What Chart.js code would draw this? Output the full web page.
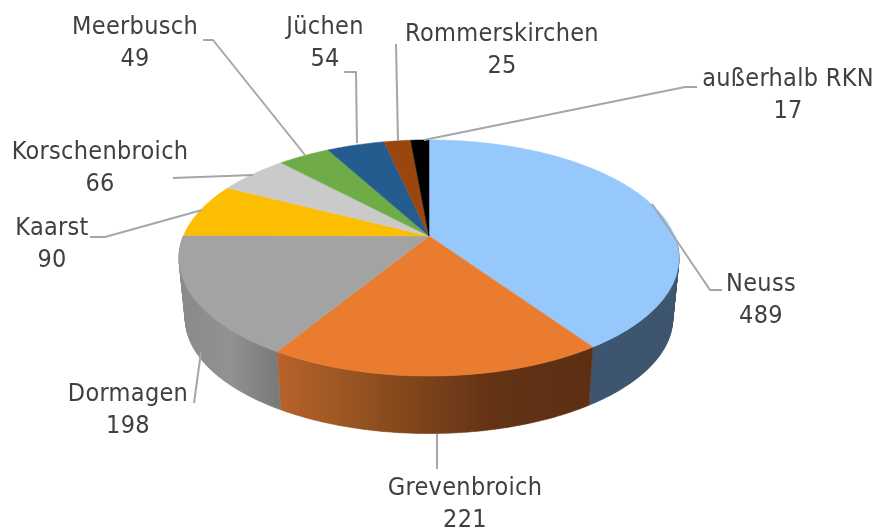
<!DOCTYPE html>
<html>
<head>
<meta charset="utf-8">
<style>html,body{margin:0;padding:0;background:#fff}canvas{display:block}</style>
<script src="https://cdn.jsdelivr.net/npm/chart.js@4"></script>
</head>
<body>
<canvas id="c" width="879" height="530"></canvas>
<script>
const categories = ["Neuss","Grevenbroich","Dormagen","Kaarst","Korschenbroich","Meerbusch","Jüchen","Rommerskirchen","außerhalb RKN"];
const values = [489,221,198,90,66,49,54,25,17];
const topColors = ["#97C8FB","#EA7C30","#A3A3A3","#FBBE00","#CBCACA","#6FAB47","#255C90","#9A470F","#000000"];
// side wall shading, evenly spaced colour stops from left to right
const wallColors = [["#3E5570","#3E5570"],["#B8642A","#8C4D1E","#643315","#5C2F13"],["#8A8A8A","#929292","#7A7A7A"],["#A08000","#A08000"],["#888888","#888888"],["#4A7030","#4A7030"],["#183D60","#183D60"],["#672F0A","#672F0A"],["#000000","#000000"]];
// label centres and leader lines for each category
const labelCentres = [[761,284],[465,488],[128,394],[52,228],[100,152],[135,27],[325,27],[502,34],[788,79]];
const leaders = [
 [[652,204],[710,290],[722,290]],
 [[437,434],[437,469]],
 [[201,352],[194,403]],
 [[202,210],[105,237],[90,237]],
 [[253,175],[173,178]],
 [[305,155],[213,40],[203,40]],
 [[357,143],[356,72],[344,72]],
 [[398,141],[396,44]],
 [[424,140],[685,87],[697,87]]
];
const labelFont = '25px "DejaVu Sans Condensed"';
const lineGap = 32;

const view = {kx:1.0407, ky:0.483, persp:0.186, wallScale:0.975, wallDrop:61};

function project(el, angle, wall){
  const u = Math.cos(angle), v = Math.sin(angle), w = 1 - view.persp*v;
  const s = wall ? view.wallScale : 1;
  return [el.x + el.outerRadius*view.kx*u/w*s,
          el.y + el.outerRadius*view.ky*v/w*s + (wall ? view.wallDrop : 0)];
}
function rim(ctx, el, a0, a1){
  const n = Math.max(2, Math.ceil(Math.abs(a1-a0)/0.01));
  for(let i=0;i<=n;i++){
    const p = project(el, a0+(a1-a0)*i/n, false);
    ctx.lineTo(p[0],p[1]);
  }
}
const pie3d = {
  id:'pie3d',
  beforeDatasetsDraw(chart){
    const ctx = chart.ctx, arcs = chart.getDatasetMeta(0).data;
    const TAU = Math.PI*2;
    // walls, swept in narrow strips so the outline follows the tangent at each side
    arcs.forEach((el,i)=>{
      const a0 = el.startAngle, a1 = el.endAngle;
      [[0,Math.PI],[TAU,TAU+Math.PI]].forEach(([lo,hi])=>{
        const s = Math.max(a0,lo), e = Math.min(a1,hi);
        if(e<=s) return;
        const pa = project(el,s,false), pb = project(el,e,false);
        const xl = Math.min(pa[0],pb[0]), xr = Math.max(pa[0],pb[0]);
        const g = ctx.createLinearGradient(xl,0,xr+0.01,0);
        wallColors[i].forEach((c,k,all)=>g.addColorStop(k/(all.length-1),c));
        ctx.fillStyle = g; ctx.strokeStyle = g; ctx.lineWidth = 0.6;
        const n = Math.max(2, Math.ceil((e-s)/0.015));
        ctx.beginPath();
        for(let k=0;k<n;k++){
          const b0 = s+(e-s)*k/n, b1 = s+(e-s)*(k+1)/n;
          const t0 = project(el,b0,false), t1 = project(el,b1,false);
          const d1 = project(el,b1,true), d0 = project(el,b0,true);
          ctx.moveTo(t0[0],t0[1]); ctx.lineTo(t1[0],t1[1]);
          ctx.lineTo(d1[0],d1[1]); ctx.lineTo(d0[0],d0[1]); ctx.closePath();
        }
        ctx.fill(); ctx.stroke();
      });
    });
    // top faces
    arcs.forEach((el,i)=>{
      ctx.beginPath();
      ctx.moveTo(el.x,el.y);
      rim(ctx,el,el.startAngle,el.endAngle);
      ctx.closePath();
      ctx.fillStyle = topColors[i]; ctx.fill();
      ctx.strokeStyle = topColors[i]; ctx.lineWidth = 0.5; ctx.stroke();
    });
    // leaders
    ctx.strokeStyle = '#A6A6A6'; ctx.lineWidth = 2; ctx.lineJoin='round';
    leaders.forEach(pts=>{
      ctx.beginPath();
      pts.forEach((p,j)=> j ? ctx.lineTo(p[0],p[1]) : ctx.moveTo(p[0],p[1]));
      ctx.stroke();
    });
    // labels
    ctx.fillStyle = '#404040'; ctx.font = labelFont; ctx.letterSpacing = '0.3px';
    ctx.textAlign='center'; ctx.textBaseline='middle';
    categories.forEach((name,i)=>{
      ctx.fillText(name,labelCentres[i][0],labelCentres[i][1]);
      ctx.fillText(String(values[i]),labelCentres[i][0],labelCentres[i][1]+lineGap);
    });
    return false;
  }
};
new Chart(document.getElementById('c'),{
  type:'pie',
  data:{labels:categories,datasets:[{data:values,backgroundColor:topColors,borderWidth:0}]},
  options:{
    responsive:false,animation:false,
    layout:{padding:{left:0,right:21,top:0,bottom:58}},
    plugins:{legend:{display:false},tooltip:{enabled:false}}
  },
  plugins:[pie3d]
});
</script>
</body>
</html>
